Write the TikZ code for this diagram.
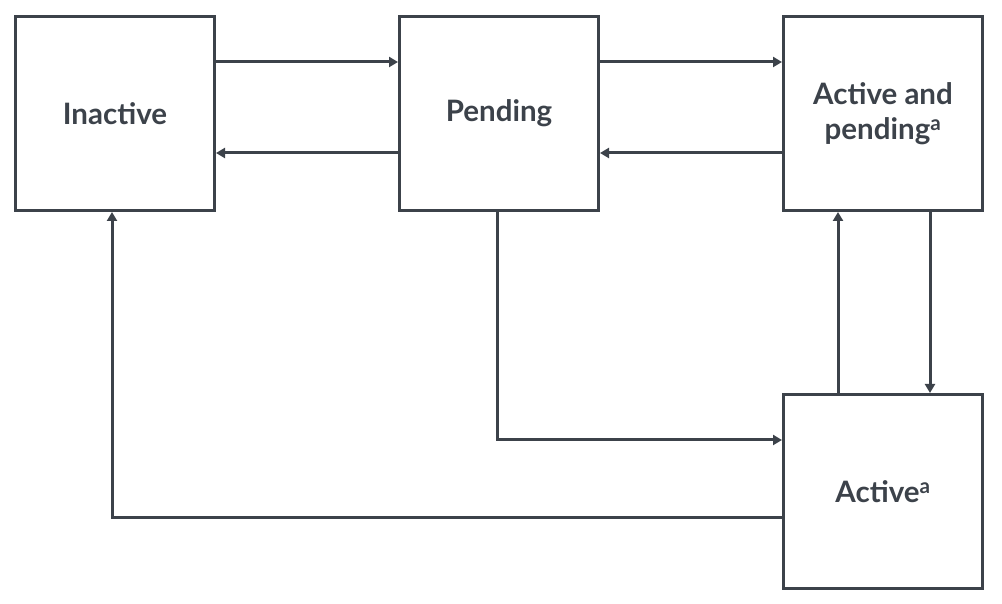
\documentclass[tikz,border=0pt]{standalone}
\usepackage{fontspec}
\setmainfont{Lato}
\usepackage{tikz}
\usetikzlibrary{positioning,arrows.meta,calc}
\usepackage{xcolor}
\definecolor{ink}{RGB}{60,66,74}

\begin{document}
\begin{tikzpicture}[x=1pt,y=1pt,
  every node/.style={font=\fontsize{29.5}{35}\selectfont\bfseries,text=ink},
  statebox/.style={draw=ink,line width=3pt,minimum width=199pt,minimum height=194pt,align=center,inner sep=0pt},
  link/.style={draw=ink,line width=3pt,-{Triangle[length=9pt,width=10pt]}}]
\useasboundingbox (0,0) rectangle (1002,604);
% states
\node[statebox] (inact) at (115,490.5) {Inactive};
\node[statebox] (pend) at (499,490.5) {Pending};
\node[statebox] (actpend) at (883,490.5) {Active and\\pending\textsuperscript{a}};
\node[statebox] (act) at (883,112.5) {Active\textsuperscript{a}};
% top row
\draw[link] ([yshift=51.5pt]inact.east) -- ([yshift=51.5pt]pend.west);
\draw[link] ([yshift=-39.5pt]pend.west) -- ([yshift=-39.5pt]inact.east);
\draw[link] ([yshift=51.5pt]pend.east) -- ([yshift=51.5pt]actpend.west);
\draw[link] ([yshift=-39.5pt]actpend.west) -- ([yshift=-39.5pt]pend.east);
% right column
\draw[link] ([xshift=-45pt]act.north) -- ([xshift=-45pt]actpend.south);
\draw[link] ([xshift=47pt]actpend.south) -- ([xshift=47pt]act.north);
% long ways round
\draw[link] ([xshift=-2pt]pend.south) |- ([yshift=51.5pt]act.west);
\draw[link] ([yshift=-26.5pt]act.west) -| ([xshift=-3pt]inact.south);
\end{tikzpicture}
\end{document}
